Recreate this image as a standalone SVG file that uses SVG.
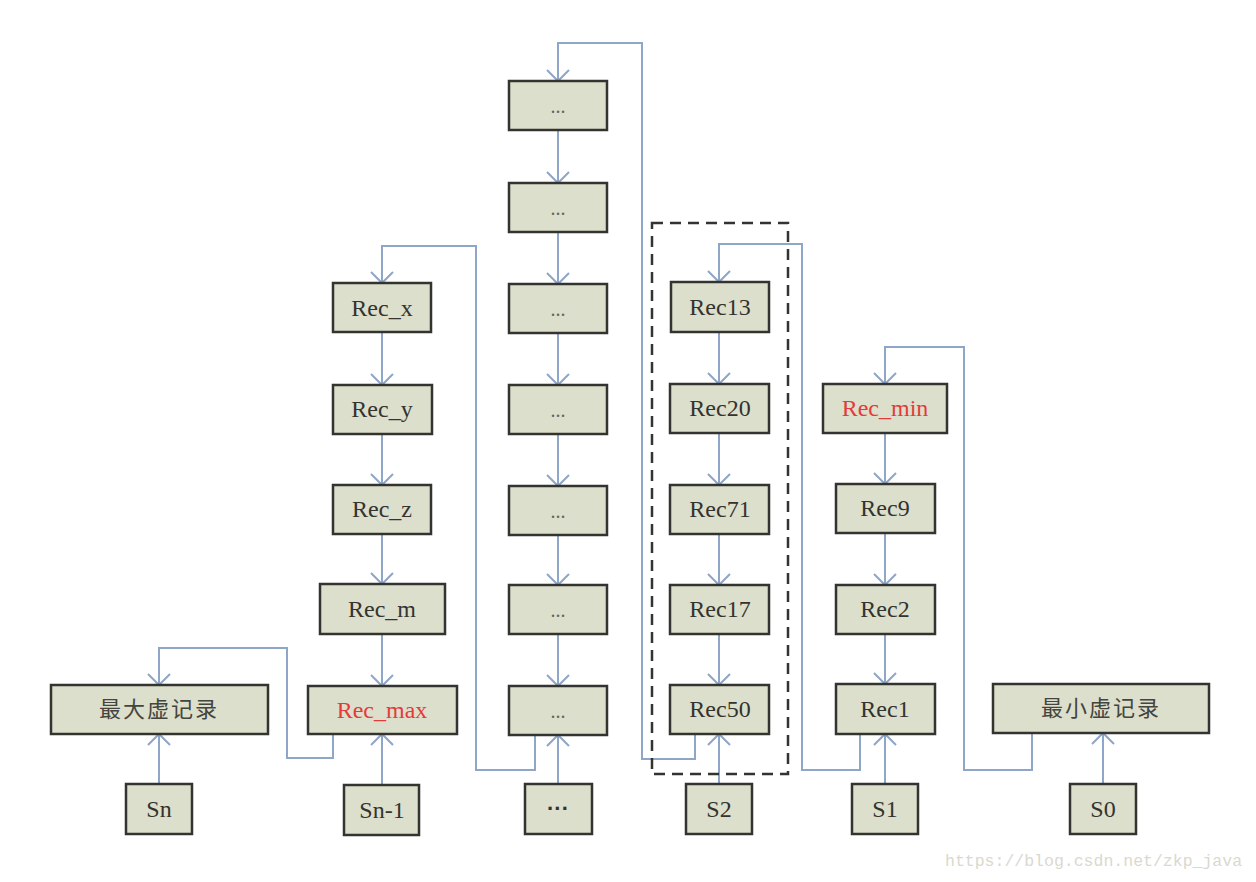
<svg xmlns="http://www.w3.org/2000/svg" width="1256" height="882" viewBox="0 0 1256 882">
<style>
.box{fill:#dcdfcb;stroke:#333330;stroke-width:2.5}
.t{font-family:"Liberation Serif","Noto Sans CJK SC",serif;font-size:24px;fill:#333330;text-anchor:middle}
.cjk{font-family:"Liberation Serif","Noto Sans CJK SC",serif;font-size:22px;fill:#444440;text-anchor:middle;letter-spacing:2px}
.red{fill:#e53a3a}
.dots{font-family:"Liberation Serif",serif;font-size:20px;fill:#666660;text-anchor:middle}
.bdots{font-family:"Liberation Sans",sans-serif;font-size:22px;font-weight:bold;fill:#333330;text-anchor:middle}
.c{fill:none;stroke:#8ea6c8;stroke-width:2}
.ca{fill:none;stroke:#8ea6c8;stroke-width:2;marker-end:url(#ah)}
.wm{font-family:"Liberation Mono",monospace;font-size:16.5px;fill:#d9d9d0}
</style>
<defs>
<marker id="ah" markerUnits="userSpaceOnUse" viewBox="-13 -13 15 26" markerWidth="15" markerHeight="26" refX="0" refY="0" orient="auto">
<path d="M-11,-11 L0,0 L-11,11" fill="none" stroke="#8ea6c8" stroke-width="2"/>
</marker>
</defs>
<rect width="1256" height="882" fill="#ffffff"/>

<g id="connectors">
<path class="ca" d="M382 332 V385"/>
<path class="ca" d="M382 434 V485"/>
<path class="ca" d="M382 534 V584"/>
<path class="ca" d="M382 634 V686"/>
<path class="ca" d="M558 130 V183"/>
<path class="ca" d="M558 232 V284"/>
<path class="ca" d="M558 333 V385"/>
<path class="ca" d="M558 434 V486"/>
<path class="ca" d="M558 535 V585"/>
<path class="ca" d="M558 634 V686"/>
<path class="ca" d="M719 332 V384"/>
<path class="ca" d="M719 433 V485"/>
<path class="ca" d="M719 534 V585"/>
<path class="ca" d="M719 634 V685"/>
<path class="ca" d="M885 433 V484"/>
<path class="ca" d="M885 533 V585"/>
<path class="ca" d="M885 634 V684"/>
<path class="ca" d="M159 784 V734"/>
<path class="ca" d="M382 785 V734"/>
<path class="ca" d="M558 784 V735"/>
<path class="ca" d="M719 794 V734"/>
<path class="ca" d="M885 784 V734"/>
<path class="ca" d="M1103 784 V733"/>
<path class="ca" d="M333 734 V758 H287 V648 H159 V685"/>
<path class="ca" d="M535 735 V770 H476 V246 H382 V283"/>
<path class="ca" d="M695 734 V759 H642 V43 H558 V81"/>
<path class="ca" d="M860 734 V770 H802 V244 H719 V282"/>
<path class="ca" d="M1032 733 V770 H964 V347 H885 V384"/>
</g>

<rect id="dashed-group" x="652" y="223" width="136" height="551" fill="none" stroke="#333330" stroke-width="2.5" stroke-dasharray="11 7"/>

<g id="n-maxv"><rect class="box" x="51" y="685" width="217" height="49"/><text class="cjk" x="159" y="717">最大虚记录</text></g>
<g id="n-sn"><rect class="box" x="126" y="784" width="66" height="50"/><text class="t" x="159" y="817">Sn</text></g>

<g id="n-recx"><rect class="box" x="333" y="283" width="98" height="49"/><text class="t" x="382" y="316">Rec_x</text></g>
<g id="n-recy"><rect class="box" x="333" y="385" width="99" height="49"/><text class="t" x="382" y="417">Rec_y</text></g>
<g id="n-recz"><rect class="box" x="333" y="485" width="98" height="49"/><text class="t" x="382" y="517">Rec_z</text></g>
<g id="n-recm"><rect class="box" x="320" y="584" width="125" height="50"/><text class="t" x="382" y="617">Rec_m</text></g>
<g id="n-recmax"><rect class="box" x="308" y="686" width="149" height="48"/><text class="t red" x="382" y="718">Rec_max</text></g>
<g id="n-sn1"><rect class="box" x="344" y="785" width="75" height="50"/><text class="t" x="382" y="818">Sn-1</text></g>

<g id="n-d1"><rect class="box" x="509" y="81" width="98" height="49"/><text class="dots" x="558" y="113">...</text></g>
<g id="n-d2"><rect class="box" x="509" y="183" width="98" height="49"/><text class="dots" x="558" y="215">...</text></g>
<g id="n-d3"><rect class="box" x="509" y="284" width="98" height="49"/><text class="dots" x="558" y="316">...</text></g>
<g id="n-d4"><rect class="box" x="509" y="385" width="98" height="49"/><text class="dots" x="558" y="417">...</text></g>
<g id="n-d5"><rect class="box" x="509" y="486" width="98" height="49"/><text class="dots" x="558" y="518">...</text></g>
<g id="n-d6"><rect class="box" x="509" y="585" width="98" height="49"/><text class="dots" x="558" y="617">...</text></g>
<g id="n-d7"><rect class="box" x="509" y="686" width="98" height="49"/><text class="dots" x="558" y="718">...</text></g>
<g id="n-sd"><rect class="box" x="525" y="784" width="67" height="50"/><text class="bdots" x="558" y="816">···</text></g>

<g id="n-rec13"><rect class="box" x="671" y="282" width="98" height="50"/><text class="t" x="720" y="315">Rec13</text></g>
<g id="n-rec20"><rect class="box" x="670" y="384" width="99" height="49"/><text class="t" x="720" y="416">Rec20</text></g>
<g id="n-rec71"><rect class="box" x="670" y="485" width="99" height="49"/><text class="t" x="720" y="517">Rec71</text></g>
<g id="n-rec17"><rect class="box" x="670" y="585" width="99" height="49"/><text class="t" x="720" y="617">Rec17</text></g>
<g id="n-rec50"><rect class="box" x="670" y="685" width="99" height="49"/><text class="t" x="720" y="717">Rec50</text></g>
<g id="n-s2"><rect class="box" x="686" y="784" width="66" height="50"/><text class="t" x="719" y="817">S2</text></g>

<g id="n-recmin"><rect class="box" x="823" y="384" width="124" height="49"/><text class="t red" x="885" y="416">Rec_min</text></g>
<g id="n-rec9"><rect class="box" x="836" y="484" width="99" height="49"/><text class="t" x="885" y="516">Rec9</text></g>
<g id="n-rec2"><rect class="box" x="836" y="585" width="99" height="49"/><text class="t" x="885" y="617">Rec2</text></g>
<g id="n-rec1"><rect class="box" x="836" y="684" width="99" height="50"/><text class="t" x="885" y="717">Rec1</text></g>
<g id="n-s1"><rect class="box" x="852" y="784" width="66" height="50"/><text class="t" x="885" y="817">S1</text></g>

<g id="n-minv"><rect class="box" x="993" y="684" width="216" height="49"/><text class="cjk" x="1101" y="716">最小虚记录</text></g>
<g id="n-s0"><rect class="box" x="1070" y="784" width="66" height="50"/><text class="t" x="1103" y="817">S0</text></g>

<text class="wm" x="945" y="866">https://blog.csdn.net/zkp_java</text>
</svg>
